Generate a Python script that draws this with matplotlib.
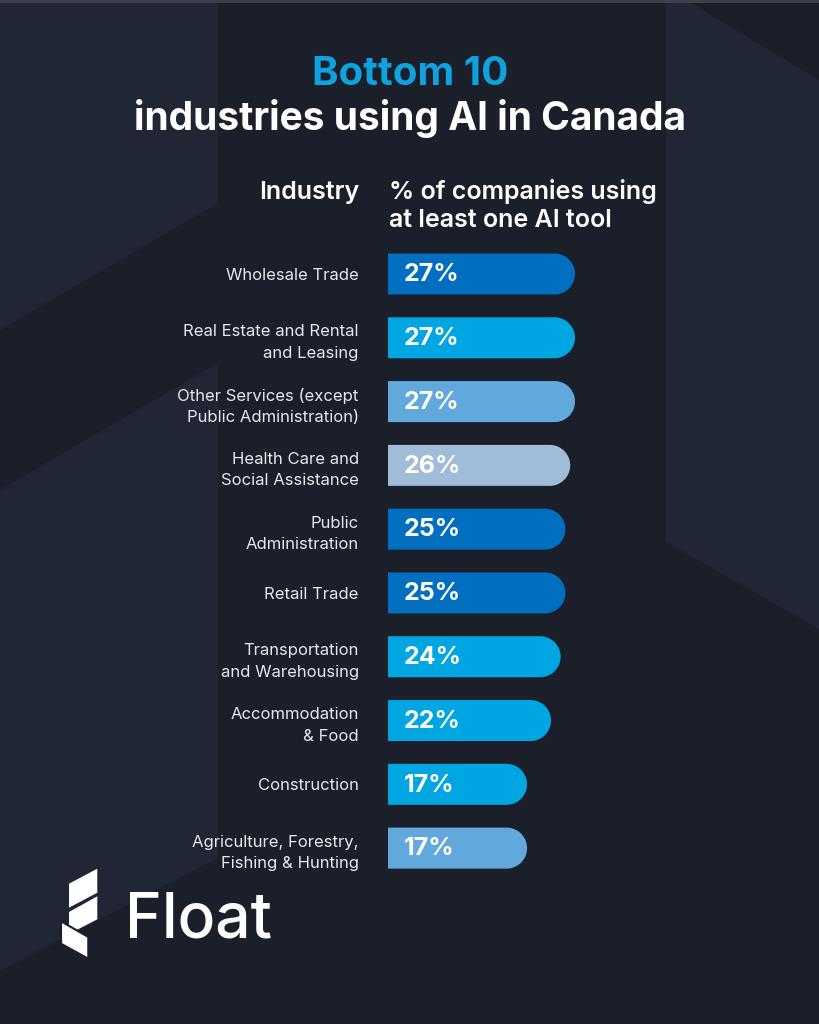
import matplotlib
matplotlib.use("Agg")
import numpy as np
import matplotlib.pyplot as plt
from matplotlib.patches import Polygon, Rectangle

plt.rcParams['font.family'] = ['Inter', 'DejaVu Sans']

industries = [
    'Wholesale Trade',
    'Real Estate and Rental\nand Leasing',
    'Other Services (except\nPublic Administration)',
    'Health Care and\nSocial Assistance',
    'Public\nAdministration',
    'Retail Trade',
    'Transportation\nand Warehousing',
    'Accommodation\n& Food',
    'Construction',
    'Agriculture, Forestry,\nFishing & Hunting',
]
pct_using_ai = [27, 27, 27, 26, 25, 25, 24, 22, 17, 17]
bar_colors = ['#006fc0', '#00a6e1', '#61a9dc', '#a0bcd8', '#006fc0',
              '#006fc0', '#00a6e1', '#00a6e1', '#00a6e1', '#61a9dc']

BG = '#1b1f2a'
PANEL = '#212634'
W, H = 819, 1024

fig = plt.figure(figsize=(W / 100, H / 100), dpi=100, facecolor=BG)


def fx(px):
    return px / W


def fy(py):
    return 1 - py / H


# background shapes, drawn in pixel space
bg = fig.add_axes([0, 0, 1, 1], zorder=-1)
bg.set_xlim(0, W)
bg.set_ylim(H, 0)
bg.axis('off')
for pts in [
    [(0, 0), (218, 0), (218, 203), (0, 330)],
    [(0, 490), (218, 363), (218, 858), (0, 971)],
    [(666, 0), (686, 0), (819, 80), (819, 629), (666, 542)],
]:
    bg.add_patch(Polygon(pts, closed=True, facecolor=PANEL, edgecolor='none'))
bg.add_patch(Rectangle((0, 0), W, 2.5, facecolor='#3b404b', edgecolor='none'))

# Float logo
logo = [
    [(69, 883.7), (97.3, 868.7), (97.3, 892.7), (69, 907.7)],
    [(69, 912), (97.3, 896.3), (97.3, 919.3), (69, 934)],
    [(61, 921.3), (88.3, 937), (88.3, 958.7), (61, 943.7)],
]
for i, pts in enumerate(logo):
    bg.add_patch(Polygon(pts, closed=True, facecolor='white',
                         edgecolor=BG if i == 2 else 'none', linewidth=1.5))
bg.text(125, 938, 'Float', color='white', fontsize=45, fontweight='medium',
        ha='left', va='baseline')

# titles
fig.text(fx(410), fy(85), 'Bottom 10', color='#0ea2df', fontsize=29,
         fontweight='bold', ha='center', va='baseline')
fig.text(fx(410), fy(130), 'industries using AI in Canada', color='white',
         fontsize=28, fontweight='bold', ha='center', va='baseline')
fig.text(fx(359), fy(199), 'Industry', color='white', fontsize=18,
         fontweight='semibold', ha='right', va='baseline')
fig.text(fx(389), fy(199), '% of companies using', color='white', fontsize=18,
         fontweight='semibold', ha='left', va='baseline')
fig.text(fx(389), fy(227), 'at least one AI tool', color='white', fontsize=18,
         fontweight='semibold', ha='left', va='baseline')

# bar axes
c = 12            # bars start a little left of zero
xmax = 50
ppu = 187 / (27 + c)          # pixels per % unit
ax_w = (xmax + c) * ppu
top_px, bot_px = 242.1, 880.0
ax = fig.add_axes([fx(388), fy(bot_px), ax_w / W, (bot_px - top_px) / H])
ax.set_xlim(-c, xmax)
ax.set_ylim(len(industries) - 0.5, -0.5)
ax.set_facecolor('none')
for s in ax.spines.values():
    s.set_visible(False)
ax.set_xticks([])

bar_h = 41 / ((bot_px - top_px) / len(industries))
upx_y = len(industries) / (bot_px - top_px)
ry = bar_h / 2
rx = (ry / upx_y) / ppu      # same radius in pixels, in x units

theta = np.linspace(np.pi / 2, -np.pi / 2, 40)
for i, (v, col) in enumerate(zip(pct_using_ai, bar_colors)):
    cx = v - rx
    arc = np.column_stack([cx + rx * np.cos(theta), i - ry * np.sin(theta)])
    pts = np.vstack([[(-c, i - ry)], arc, [(-c, i + ry)]])
    ax.add_patch(Polygon(pts, closed=True, facecolor=col, edgecolor='none'))
    ax.annotate(f'{v}%', xy=(-c, i), xytext=(11.5, -0.5),
                textcoords='offset points', color='white', fontsize=18,
                fontweight='bold', ha='left', va='center')

ax.set_yticks(range(len(industries)))
ax.set_yticklabels(industries, color='#e6e7ea', fontsize=12, linespacing=1.55)
ax.tick_params(axis='y', length=0, pad=21)

fig.savefig('out.png', dpi=100, facecolor=BG)
